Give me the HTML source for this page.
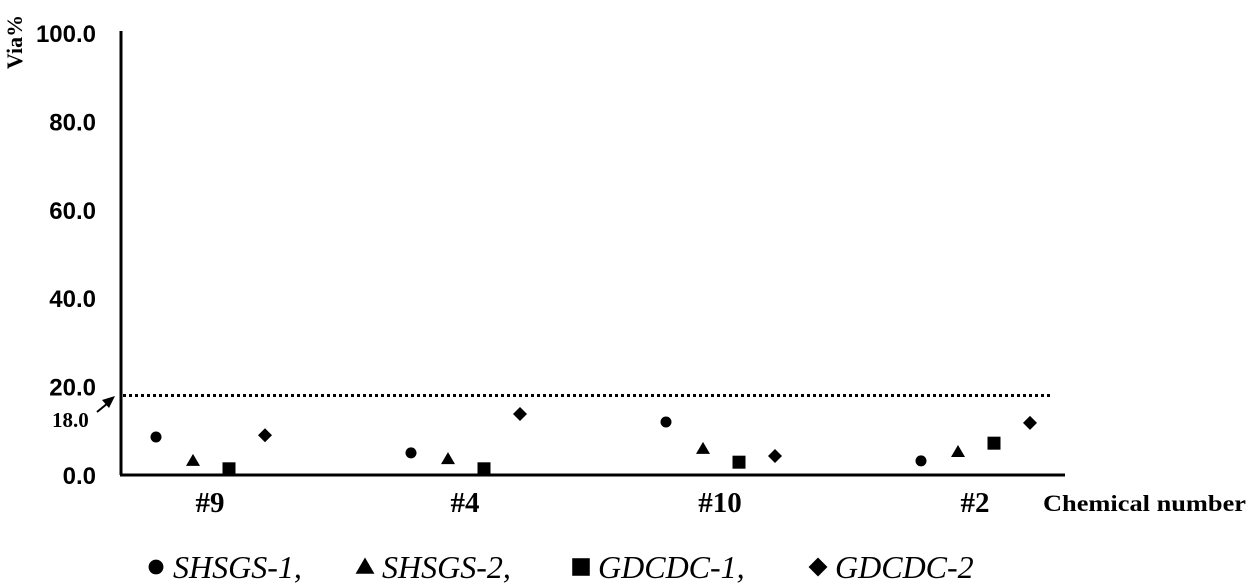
<!DOCTYPE html>
<html><head><meta charset="utf-8"><style>
body{margin:0;background:#fff;}
svg{display:block;}
.tick{font-family:"Liberation Sans",sans-serif;font-weight:bold;font-size:24px;}
.serif{font-family:"Liberation Serif",serif;font-weight:bold;}
</style></head><body>
<svg id="chart" width="1250" height="586" viewBox="0 0 1250 586"></svg>
<script>
const categories = ["#9","#4","#10","#2"];
const seriesNames = ["SHSGS-1","SHSGS-2","GDCDC-1","GDCDC-2"];
const shsgs1 = [8.6, 5.0, 12.0, 3.2];
const shsgs2 = [3.2, 3.6, 5.9, 5.2];
const gdcdc1 = [1.4, 1.4, 2.9, 7.2];
const gdcdc2 = [9.0, 13.8, 4.3, 11.8];
const yTicks = [0,20,40,60,80,100];
const threshold = 18;

const NS="http://www.w3.org/2000/svg";
const svg=document.getElementById('chart');
function el(t,a,p){const e=document.createElementNS(NS,t);for(const k in a)e.setAttribute(k,a[k]);(p||svg).appendChild(e);return e;}
const y0=475, yTop=33;
function yS(v){return y0-(v/100)*(y0-yTop);}
function xS(i,off){return 210+i*255+off;}

const yAxis=el('line',{x1:121,y1:31,x2:121,y2:y0,stroke:'#000','stroke-width':3});


const xAxis=el('line',{x1:120,y1:y0,x2:1065,y2:y0,stroke:'#000','stroke-width':3});



yTicks.forEach(v=>{
  const t=el('text',{x:96,y:yS(v)+9,'text-anchor':'end',class:'tick'});
  t.textContent=v.toFixed(1);
  
  
});
const yt=el('text',{x:22,y:42,class:'serif','font-size':22,transform:'rotate(-90 22 42)','text-anchor':'middle'});
yt.textContent='Via%';



const th=el('line',{x1:123,y1:yS(threshold),x2:1050,y2:yS(threshold),stroke:'#000','stroke-width':3,'stroke-dasharray':'3 3'});


const tl=el('text',{x:52,y:427,class:'serif','font-size':21});
tl.textContent='18.0';


const ar=el('line',{x1:97,y1:412,x2:108,y2:403,stroke:'#000','stroke-width':2});


el('polygon',{points:'115,396 102,400 109,408',fill:'#000'});

categories.forEach((c,i)=>{
  const t=el('text',{x:xS(i,0),y:512,'text-anchor':'middle',class:'serif','font-size':29});
  t.textContent=c;
  
  
});
const xt=el('text',{x:1043,y:511,class:'serif','font-size':23,textLength:203,lengthAdjust:'spacingAndGlyphs'});
xt.textContent='Chemical number';



function marker(shape,x,y,s){
  s=s||1;
  if(shape==0) return el('circle',{cx:x,cy:y,r:5.5*s,fill:'#000'});
  if(shape==1) return el('polygon',{points:`${x},${y-7*s} ${x+7*s},${y+5*s} ${x-7*s},${y+5*s}`,fill:'#000'});
  if(shape==2) return el('rect',{x:x-6.5*s,y:y-6.5*s,width:13*s,height:13*s,fill:'#000'});
  return el('polygon',{points:`${x},${y-7*s} ${x+7*s},${y} ${x},${y+7*s} ${x-7*s},${y}`,fill:'#000'});
}
const all=[shsgs1,shsgs2,gdcdc1,gdcdc2];
const offs=[-54,-17,19,55];
all.forEach((s,si)=>{
  s.forEach((v,i)=>{
    const m=marker(si,xS(i,offs[si]),yS(v));
    
    
  });
});

const lx=[156,365,581,818];
seriesNames.forEach((n,i)=>{
  const m=marker(i,lx[i],567,1.35);
  
  
  const t=el('text',{x:lx[i]+17,y:578,'font-family':'Liberation Serif, serif','font-style':'italic','font-size':32});
  t.textContent=n+(i<3?',':'');
  
  
});
</script>
</body></html>
